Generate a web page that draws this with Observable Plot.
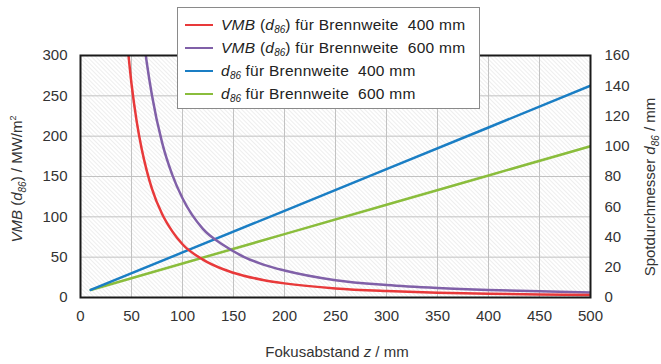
<!DOCTYPE html>
<html><head><meta charset="utf-8">
<script src="https://cdn.jsdelivr.net/npm/d3@7"></script>
<script src="https://cdn.jsdelivr.net/npm/@observablehq/plot@0.6"></script>
<style>
body{margin:0;background:#fff;font-family:"Liberation Sans",Arial,sans-serif;}
#wrap{position:relative;width:661px;height:364px;overflow:hidden;}
#legend{position:absolute;left:177px;top:7px;width:303px;height:102px;background:#fff;border:1px solid #8a8a8a;box-sizing:border-box;font-size:15.5px;letter-spacing:0.25px;color:#222;}
.item{position:absolute;left:7px;height:20px;display:flex;align-items:center;white-space:nowrap;}
.sw{width:28px;height:2px;margin-right:8px;flex:none;}
sub{font-size:10px;font-style:italic;vertical-align:-3px;line-height:0;letter-spacing:0;}
</style></head>
<body><div id="wrap">
<svg width="0" height="0" style="position:absolute"><defs>
<pattern id="hatch" width="3" height="3" patternUnits="userSpaceOnUse" patternTransform="rotate(-45)">
<rect width="3" height="3" fill="#ffffff"/><line x1="0" y1="0" x2="0" y2="3" stroke="#dadada" stroke-width="0.9"/></pattern></defs></svg>
<div id="chart"></div><div id="legend"></div></div>
<script>
// ---- data ----
const xTicks = [0, 50, 100, 150, 200, 250, 300, 350, 400, 450, 500];
const yTicksLeft = [0, 50, 100, 150, 200, 250, 300];
const yTicksRight = [0, 20, 40, 60, 80, 100, 120, 140, 160];

// Spot diameter d86 (mm) vs. focus distance z (mm)
const zSpot = [10, 100, 200, 300, 400, 500];
const d86_400 = [5, 29.8, 57.3, 84.9, 112.4, 140];
const d86_600 = [5, 22.5, 41.9, 61.3, 80.7, 100];

// VMB(d86) (MW/m²) vs. focus distance z (mm)
const zVmb = [45, 50, 55, 60, 65, 70, 80, 90, 100, 120, 140, 160, 180, 200, 250, 300, 350, 400, 450, 500];
const vmb_400 = [327, 265, 219, 184, 157, 135, 103.5, 82, 66, 47, 35, 27, 21.5, 17.5, 11.2, 8, 6, 4.7, 3.8, 3.1];
const vmb_600 = [607, 492, 406, 341, 291, 251, 192, 152, 123, 85, 65, 50.5, 40.5, 33.5, 21.5, 15.5, 11.8, 9.3, 7.6, 6.3];

const colors = {red: "#e8393a", purple: "#8060a8", blue: "#1a7ec4", green: "#8abd3c"};
const leftMax = 300, rightMax = 160;
const toLeft = v => v * leftMax / rightMax;

const spot400 = zSpot.map((z, i) => ({z, v: d86_400[i]}));
const spot600 = zSpot.map((z, i) => ({z, v: d86_600[i]}));
const v400 = zVmb.map((z, i) => ({z, v: vmb_400[i]}));
const v600 = zVmb.map((z, i) => ({z, v: vmb_600[i]}));

const chart = Plot.plot({
  width: 661, height: 364,
  marginLeft: 80, marginRight: 71, marginTop: 55, marginBottom: 67,
  x: {domain: [0, 500]},
  y: {domain: [0, 300]},
  style: {fontFamily: "Liberation Sans, Arial, sans-serif", fontSize: "15px", color: "#333", background: "transparent", overflow: "visible"},
  marks: [
    Plot.frame({fill: "url(#hatch)", stroke: null}),
    Plot.gridX(xTicks, {stroke: "#c2c2c2", strokeOpacity: 1, strokeWidth: 1}),
    Plot.gridY(yTicksLeft, {stroke: "#c2c2c2", strokeOpacity: 1, strokeWidth: 1}),
    Plot.axisX(xTicks, {tickSize: 0, tickPadding: 13, label: null, fill: "#333"}),
    Plot.axisY(yTicksLeft, {tickSize: 0, tickPadding: 13, label: null, fill: "#333"}),
    Plot.axisY(yTicksRight.map(toLeft), {anchor: "right", tickSize: 0, tickPadding: 14, label: null, fill: "#333",
      tickFormat: v => String(Math.round(v * rightMax / leftMax))}),
    Plot.line(spot600, {x: "z", y: d => toLeft(d.v), stroke: colors.green, strokeWidth: 2.5, clip: true}),
    Plot.line(spot400, {x: "z", y: d => toLeft(d.v), stroke: colors.blue, strokeWidth: 2.5, clip: true}),
    Plot.line(v600, {x: "z", y: "v", stroke: colors.purple, strokeWidth: 2.5, curve: "monotone-x", clip: true}),
    Plot.line(v400, {x: "z", y: "v", stroke: colors.red, strokeWidth: 2.5, curve: "monotone-x", clip: true}),
    Plot.frame({stroke: "#1a1a1a", strokeWidth: 2})
  ]
});
document.getElementById("chart").appendChild(chart);

// axis titles with italics / subscripts
const svg = d3.select(chart);
const tl = svg.append("text").attr("transform", "translate(22,179) rotate(-90)").attr("text-anchor", "middle")
  .attr("fill", "#333").style("font-size", "15px");
tl.append("tspan").attr("font-style", "italic").text("VMB");
tl.append("tspan").text(" (");
tl.append("tspan").attr("font-style", "italic").text("d");
tl.append("tspan").attr("font-style", "italic").attr("font-size", "10px").attr("dy", 4).text("86");
tl.append("tspan").attr("dy", -4).text(") / MW/m");
tl.append("tspan").attr("font-size", "9px").attr("dy", -6).text("2");

const tr = svg.append("text").attr("transform", "translate(655,187) rotate(-90)").attr("text-anchor", "middle")
  .attr("fill", "#333").style("font-size", "15px");
tr.append("tspan").text("Spotdurchmesser ");
tr.append("tspan").attr("font-style", "italic").text("d");
tr.append("tspan").attr("font-style", "italic").attr("font-size", "10px").attr("dy", 4).text("86");
tr.append("tspan").attr("dy", -4).text(" / mm");

const tb = svg.append("text").attr("x", 337).attr("y", 357).attr("text-anchor", "middle")
  .attr("fill", "#333").style("font-size", "15px");
tb.append("tspan").text("Fokusabstand ");
tb.append("tspan").attr("font-style", "italic").text("z");
tb.append("tspan").text(" / mm");

// legend
const legendItems = [
  {color: colors.red, html: "<i>VMB</i> (<i>d</i><sub>86</sub>) für Brennweite&nbsp; 400 mm"},
  {color: colors.purple, html: "<i>VMB</i> (<i>d</i><sub>86</sub>) für Brennweite&nbsp; 600 mm"},
  {color: colors.blue, html: "<i>d</i><sub>86</sub> für Brennweite&nbsp; 400 mm"},
  {color: colors.green, html: "<i>d</i><sub>86</sub> für Brennweite&nbsp; 600 mm"}
];
const lg = document.getElementById("legend");
legendItems.forEach((it, i) => {
  const d = document.createElement("div");
  d.className = "item";
  d.style.top = (7 + i * 23) + "px";
  d.innerHTML = `<span class="sw" style="background:${it.color}"></span><span>${it.html}</span>`;
  lg.appendChild(d);
});
</script>
</body></html>
